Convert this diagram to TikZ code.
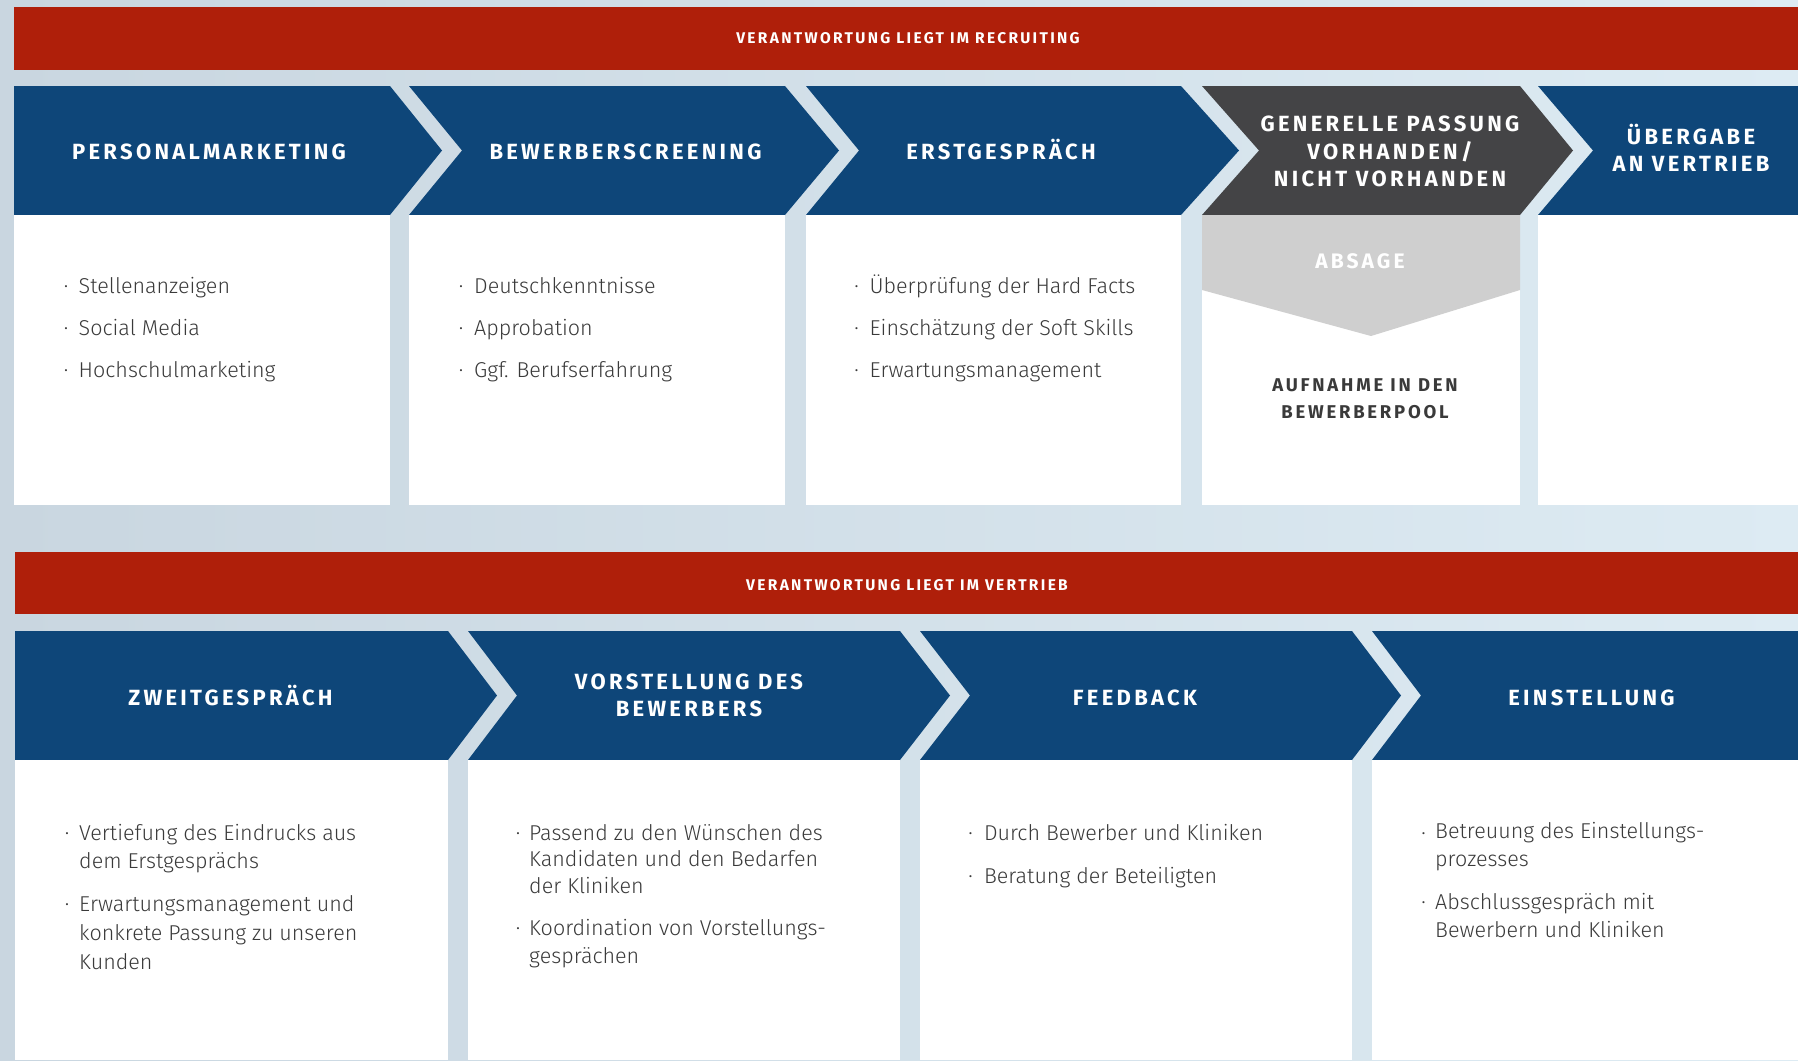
\documentclass[tikz,border=0pt]{standalone}
\usepackage{fontspec}
\setmainfont{Fira Sans}
\newfontfamily\hfont{Fira Sans}[LetterSpace=15]
\newfontfamily\bodyfont{Fira Sans Light}
\definecolor{hred}{HTML}{AF1F0A}
\definecolor{hblue}{HTML}{0E4679}
\definecolor{hdark}{HTML}{444446}
\definecolor{hgray}{HTML}{CFCFCF}
\definecolor{btext}{HTML}{3A3A3A}
\definecolor{bgl}{HTML}{C9D6E0}
\definecolor{bgr}{HTML}{DDEBF3}
\tikzset{
  hblk/.style={fill=hblue},
  hdk/.style={fill=hdark},
  bodybox/.style={fill=white},
  redband/.style={fill=hred},
  htxt/.style={text=white, font=\hfont\bfseries\fontsize{22}{27.5}\selectfont, align=center, inner sep=0, anchor=base},
  redtxt/.style={text=white, font=\hfont\bfseries\fontsize{15.5}{17}\selectfont, inner sep=0, anchor=base},
  btxt/.style={text=btext, font=\bodyfont\fontsize{21.5}{28}\selectfont, align=left, inner sep=0, anchor=base west},
  bdot/.style={text=btext, font=\bodyfont\fontsize{21.5}{28}\selectfont, inner sep=0, anchor=base},
  abs/.style={text=white, font=\hfont\bfseries\fontsize{21}{24}\selectfont, inner sep=0, anchor=base},
  pool/.style={text=btext, font=\hfont\bfseries\fontsize{18.5}{26.5}\selectfont, align=center, inner sep=0, anchor=base},
}
\begin{document}
\begin{tikzpicture}[x=1pt,y=-1pt]
\useasboundingbox (0,0) rectangle (1798,1060);
\shade[left color=bgl, right color=bgr] (0,0) rectangle (1798,1060);
% ---------- row 1 ----------
\fill[redband] (14,7) rectangle (1798,70);
\node[redtxt] (r1) at (908,43.3) {VERANTWORTUNG LIEGT IM RECRUITING};
\fill[hblk] (14,86) -- (390,86) -- (442,150.5) -- (390,215) -- (14,215) -- cycle;
\fill[hblk] (409,86) -- (785,86) -- (839,150.5) -- (785,215) -- (409,215) -- (462,150.5) -- cycle;
\fill[hblk] (806,86) -- (1181,86) -- (1239,150.5) -- (1181,215) -- (806,215) -- (859,150.5) -- cycle;
\fill[hdk] (1202,86) -- (1520,86) -- (1573,150.5) -- (1520,215) -- (1202,215) -- (1259,150.5) -- cycle;
\fill[hblk] (1538,86) -- (1798,86) -- (1798,215) -- (1538,215) -- (1593,150.5) -- cycle;
\fill[bodybox] (14,215) rectangle (390,505);
\fill[bodybox] (409,215) rectangle (785,505);
\fill[bodybox] (806,215) rectangle (1181,505);
\fill[bodybox] (1202,215) rectangle (1520,505);
\fill[bodybox] (1538,215) rectangle (1798,505);
\fill[hgray] (1202,215) -- (1520,215) -- (1520,290) -- (1371,336) -- (1202,290) -- cycle;
\node[htxt] (h11) at (209,159) {PERSONALMARKETING};
\node[htxt] (h12) at (625.5,159) {BEWERBERSCREENING};
\node[htxt] (h13) at (1001,159) {ERSTGESPRÄCH};
\node[htxt] (h14) at (1390,186.7) {GENERELLE PASSUNG\\VORHANDEN/\\NICHT VORHANDEN};
\node[htxt] (h15) at (1691,171.7) {ÜBERGABE\\AN VERTRIEB};
% body row 1
\node[bdot] (d111) at (66,293.5) {·}; \node[btxt] (t111) at (78.5,293.5) {Stellenanzeigen};
\node[bdot] (d112) at (66,335.5) {·}; \node[btxt] (t112) at (78.5,335.5) {Social Media};
\node[bdot] (d113) at (66,377.5) {·}; \node[btxt] (t113) at (78.5,377.5) {Hochschulmarketing};
\node[bdot] (d121) at (461,293.5) {·}; \node[btxt] (t121) at (474,293.5) {Deutschkenntnisse};
\node[bdot] (d122) at (461,335.5) {·}; \node[btxt] (t122) at (474,335.5) {Approbation};
\node[bdot] (d123) at (461,377.5) {·}; \node[btxt] (t123) at (474,377.5) {Ggf. Berufserfahrung};
\node[bdot] (d131) at (856.5,293.5) {·}; \node[btxt] (t131) at (869.5,293.5) {Überprüfung der Hard Facts};
\node[bdot] (d132) at (856.5,335.5) {·}; \node[btxt] (t132) at (869.5,335.5) {Einschätzung der Soft Skills};
\node[bdot] (d133) at (856.5,377.5) {·}; \node[btxt] (t133) at (869.5,377.5) {Erwartungsmanagement};
\node[abs] (absage) at (1360,268.3) {ABSAGE};
\node[pool] (pool) at (1365,418.3) {AUFNAHME IN DEN\\BEWERBERPOOL};
% ---------- row 2 ----------
\fill[redband] (15,552) rectangle (1798,614);
\node[redtxt] (r2) at (907,590) {VERANTWORTUNG LIEGT IM VERTRIEB};
\fill[hblk] (15,631) -- (448,631) -- (497,695.5) -- (448,760) -- (15,760) -- cycle;
\fill[hblk] (468,631) -- (900,631) -- (950,695.5) -- (900,760) -- (468,760) -- (517,695.5) -- cycle;
\fill[hblk] (920,631) -- (1352,631) -- (1401,695.5) -- (1352,760) -- (920,760) -- (970,695.5) -- cycle;
\fill[hblk] (1372,631) -- (1798,631) -- (1798,760) -- (1372,760) -- (1421,695.5) -- cycle;
\fill[bodybox] (15,760) rectangle (448,1060);
\fill[bodybox] (468,760) rectangle (900,1060);
\fill[bodybox] (920,760) rectangle (1352,1060);
\fill[bodybox] (1372,760) rectangle (1798,1060);
\node[htxt] (h21) at (230.5,705) {ZWEITGESPRÄCH};
\node[htxt] (h22) at (689,716.7) {VORSTELLUNG DES\\BEWERBERS};
\node[htxt] (h23) at (1135,705) {FEEDBACK};
\node[htxt] (h24) at (1591.5,705) {EINSTELLUNG};
% body row 2 (multi-line nodes: base = last line)
\node[bdot] (d211) at (67,840) {·}; \node[btxt] (t211) at (79,868.5) {Vertiefung des Eindrucks aus\\dem Erstgesprächs};
\node[bdot] (d212) at (67,911.7) {·}; \node[btxt,font=\bodyfont\fontsize{21.5}{29}\selectfont] (t212) at (79,969.7) {Erwartungsmanagement und\\konkrete Passung zu unseren\\Kunden};
\node[bdot] (d221) at (518,840) {·}; \node[btxt,font=\bodyfont\fontsize{21.5}{26.5}\selectfont] (t221) at (529,893) {Passend zu den Wünschen des\\Kandidaten und den Bedarfen\\der Kliniken};
\node[bdot] (d222) at (518,935.7) {·}; \node[btxt] (t222) at (529,963.7) {Koordination von Vorstellungs-\\gesprächen};
\node[bdot] (d231) at (970.6,840) {·}; \node[btxt] (t231) at (983.8,840) {Durch Bewerber und Kliniken};
\node[bdot] (d232) at (970.6,883.3) {·}; \node[btxt] (t232) at (983.8,883.3) {Beratung der Beteiligten};
\node[bdot] (d241) at (1423.5,840) {·}; \node[btxt] (t241) at (1435,866.5) {Betreuung des Einstellungs-\\prozesses};
\node[bdot] (d242) at (1423.5,909) {·}; \node[btxt] (t242) at (1435,937.5) {Abschlussgespräch mit\\Bewerbern und Kliniken};
\end{tikzpicture}
\end{document}
